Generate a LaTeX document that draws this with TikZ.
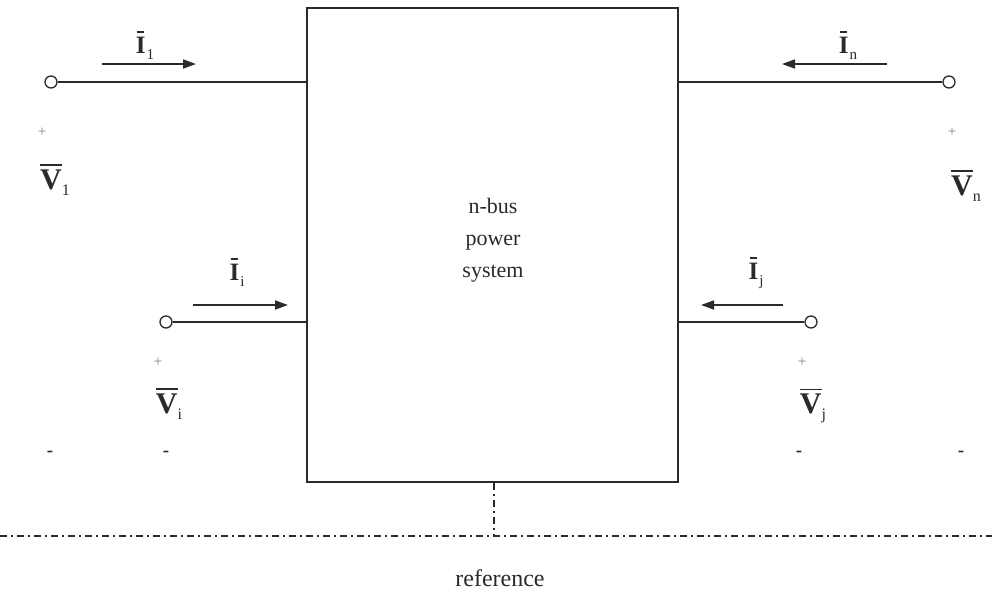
\documentclass[tikz,border=0pt]{standalone}
\usepackage{fontspec}
\setmainfont{Liberation Serif}
\usetikzlibrary{arrows.meta}
\definecolor{ink}{HTML}{2A2A2A}
% letter with a bar above it: #1 letter, #2 bar width, #3 gap
\newcommand{\barred}[3]{\leavevmode\vbox{\offinterlineskip\halign{\hfil##\hfil\cr\rule{#2}{1.7pt}\cr\noalign{\kern#3}#1\cr}}}
\newcommand{\phV}[1]{\barred{\bfseries V}{0.72em}{4pt}\raisebox{-6pt}{\fontsize{16}{16}\selectfont #1}}
\newcommand{\phI}[1]{\barred{\bfseries I}{0.28em}{4pt}\kern1pt\raisebox{-6pt}{\fontsize{15}{15}\selectfont #1}}
\begin{document}
\begin{tikzpicture}[x=1pt,y=-1pt,
  every node/.style={text=ink},
  wire/.style={draw=ink,line width=1.6pt},
  term/.style={circle,draw=ink,line width=1.3pt,fill=white,minimum size=12pt,inner sep=0pt},
  flow/.style={draw=ink,line width=1.7pt,-{Triangle[length=13pt,width=9pt]}},
  ilbl/.style={font=\fontsize{25}{25}\selectfont,inner sep=0pt},
  vlbl/.style={font=\fontsize{30}{30}\selectfont,inner sep=0pt},
  sgn/.style={font=\fontsize{15}{15}\selectfont,text=ink!60,inner sep=0pt},
  mns/.style={font=\fontsize{19}{19}\selectfont\bfseries,inner sep=0pt},
  refl/.style={draw=ink,line width=1.3pt,dash pattern=on 7pt off 4pt on 2pt off 4pt}]
\useasboundingbox (0,0) rectangle (992,595);
% box
\node[draw=ink,line width=2pt,minimum width=371pt,minimum height=474pt,inner sep=0pt] (sys) at (492.5,245) {};
\node[align=center,font=\fontsize{22}{32}\selectfont] (txt) at (493,240) {n-bus\\power\\system};
% terminals
\node[term] (t1) at (51,82) {};
\node[term] (tn) at (949,82) {};
\node[term] (ti) at (166,322) {};
\node[term] (tj) at (811,322) {};
\draw[wire] (t1) -- (t1 -| sys.west);
\draw[wire] (tn) -- (tn -| sys.east);
\draw[wire] (ti) -- (ti -| sys.west);
\draw[wire] (tj) -- (tj -| sys.east);
% current arrows
\coordinate (a1s) at (102,64); \coordinate (a1e) at (196,64);
\coordinate (ans) at (887,64); \coordinate (ane) at (782,64);
\coordinate (ais) at (193,305); \coordinate (aie) at (288,305);
\coordinate (ajs) at (783,305); \coordinate (aje) at (701,305);
\draw[flow] (a1s) -- (a1e);
\draw[flow] (ans) -- (ane);
\draw[flow] (ais) -- (aie);
\draw[flow] (ajs) -- (aje);
\node[ilbl] (I1) at (145,45) {\phI{1}};
\node[ilbl] (In) at (848,45) {\phI{n}};
\node[ilbl] (Ii) at (237,272) {\phI{i}};
\node[ilbl] (Ij) at (756,273) {\phI{j}};
% voltages
\node[sgn] (p1) at (42,132) {+};
\node[sgn] (pn) at (952,132) {+};
\node[sgn] (pi) at (158,362) {+};
\node[sgn] (pj) at (802,362) {+};
\node[vlbl] (V1) at (55,180) {\phV{1}};
\node[vlbl] (Vn) at (966,186) {\phV{n}};
\node[vlbl] (Vi) at (169,404) {\phV{i}};
\node[vlbl] (Vj) at (813,406) {\phV{j}};
\node[mns] (m1) at (50,454) {-};
\node[mns] (mi) at (166,454) {-};
\node[mns] (mj) at (799,454) {-};
\node[mns] (mn) at (961,454) {-};
% reference
\coordinate (rl) at (0,536);
\coordinate (rr) at (992,536);
\draw[refl] (rl) -- (rr);
\draw[refl] (sys.south -| 494,0) -- (494,536);
\node[font=\fontsize{24}{24}\selectfont] (ref) at (500,578) {reference};
\end{tikzpicture}
\end{document}
